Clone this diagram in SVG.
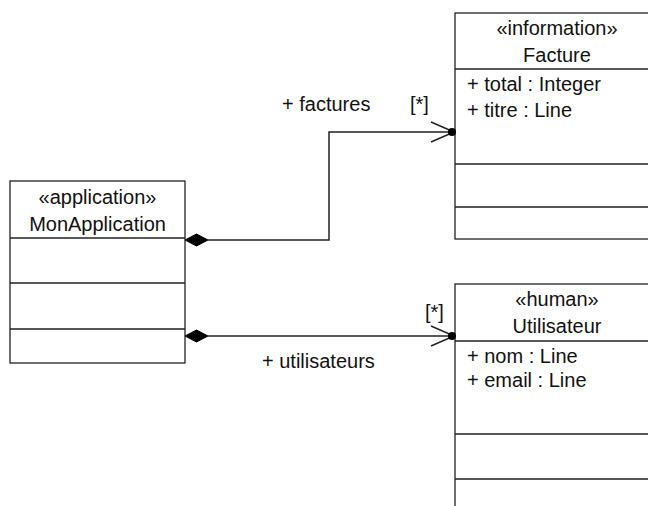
<svg xmlns="http://www.w3.org/2000/svg" width="648" height="506" viewBox="0 0 648 506">
<style>
text{font-family:"Liberation Sans",Arial,sans-serif;font-size:20px;fill:#111}
.c{text-anchor:middle}
.box{fill:#fff;stroke:#222;stroke-width:1.3}
.sep{stroke:#222;stroke-width:1.3}
.conn{fill:none;stroke:#222;stroke-width:1.5}
.dia{fill:#000;stroke:#000;stroke-width:1}
.arr{fill:none;stroke:#222;stroke-width:1.5}
</style>
<rect width="648" height="506" fill="#fff"/>
<g id="MonApplication">
<rect class="box" x="10" y="181" width="175" height="182"/>
<line class="sep" x1="10" y1="238" x2="185" y2="238"/>
<line class="sep" x1="10" y1="283" x2="185" y2="283"/>
<line class="sep" x1="10" y1="329" x2="185" y2="329"/>
<text class="c" x="97.5" y="204">«application»</text>
<text class="c" x="97.5" y="231">MonApplication</text>
</g>
<g id="Facture">
<rect class="box" x="455" y="13" width="210" height="226"/>
<line class="sep" x1="455" y1="69" x2="665" y2="69"/>
<line class="sep" x1="455" y1="164" x2="665" y2="164"/>
<line class="sep" x1="455" y1="207" x2="665" y2="207"/>
<text class="c" x="557" y="35">«information»</text>
<text class="c" x="557" y="62">Facture</text>
<text x="467" y="91">+ total : Integer</text>
<text x="467" y="117">+ titre : Line</text>
</g>
<g id="Utilisateur">
<rect class="box" x="455" y="284" width="210" height="240"/>
<line class="sep" x1="455" y1="341" x2="665" y2="341"/>
<line class="sep" x1="455" y1="434" x2="665" y2="434"/>
<line class="sep" x1="455" y1="479" x2="665" y2="479"/>
<text class="c" x="557" y="306">«human»</text>
<text class="c" x="557" y="333">Utilisateur</text>
<text x="467" y="363">+ nom : Line</text>
<text x="467" y="387">+ email : Line</text>
</g>
<g id="connectors">
<polyline class="conn" points="208,240 329,240 329,132 454,132"/>
<polygon class="dia" points="185,240 196.5,234 208,240 196.5,246"/>
<polyline class="arr" points="431,122 454,132 431,142"/>
<circle cx="452" cy="132" r="4" fill="#000"/>
<text x="282" y="111">+ factures</text>
<text x="410" y="111">[*]</text>
<line class="conn" x1="208" y1="336" x2="454" y2="336"/>
<polygon class="dia" points="185,336 196.5,330 208,336 196.5,342"/>
<polyline class="arr" points="431,326 454,336 431,346"/>
<circle cx="452" cy="336" r="4" fill="#000"/>
<text x="425" y="319">[*]</text>
<text x="262" y="368">+ utilisateurs</text>
</g>
</svg>
